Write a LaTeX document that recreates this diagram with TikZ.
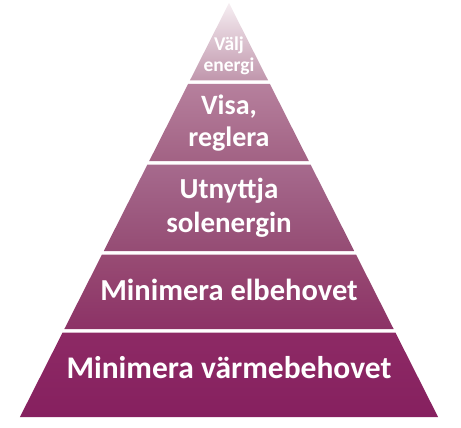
\documentclass[tikz,border=0pt]{standalone}
\usepackage{fontspec}
\setmainfont{Carlito}
\definecolor{layAtop}{RGB}{246,238,242}
\definecolor{layAbot}{RGB}{192,150,172}
\definecolor{layBtop}{RGB}{182,128,157}
\definecolor{layBbot}{RGB}{162,98,132}
\definecolor{layCtop}{RGB}{166,106,141}
\definecolor{layCbot}{RGB}{149,76,116}
\definecolor{layDtop}{RGB}{152,76,116}
\definecolor{layDbot}{RGB}{140,50,102}
\definecolor{layEtop}{RGB}{141,42,101}
\definecolor{layEbot}{RGB}{134,32,95}
\newcommand{\pyrlayer}[4]{%
  \shade[top color=#3, bottom color=#4]
    ({229-(#1-3)*0.505},#1) -- ({229+(#1-3)*0.505},#1) --
    ({229+(#2-3)*0.505},#2) -- ({229-(#2-3)*0.505},#2) -- cycle;}
\begin{document}
\begin{tikzpicture}[x=1pt, y=-1pt, every node/.style={align=center, text=white, font=\bfseries\fontsize{30.5}{34}\selectfont}]
\useasboundingbox (0,0) rectangle (461,428);
\pyrlayer{3}{80.5}{layAtop}{layAbot}
\pyrlayer{84}{161}{layBtop}{layBbot}
\pyrlayer{164.5}{251}{layCtop}{layCbot}
\pyrlayer{254.5}{329}{layDtop}{layDbot}
\pyrlayer{332.5}{417}{layEtop}{layEbot}
\node (valj) [font=\bfseries\fontsize{19.5}{21}\selectfont] at (229,56) {Välj\\energi};
\node (visa) [font=\bfseries\fontsize{28}{32}\selectfont] at (229,123) {Visa,\\reglera};
\node (utnyttja) [font=\bfseries\fontsize{29}{34}\selectfont] at (229,208) {Utnyttja\\solenergin};
\node (elbehov) at (229,290) {Minimera elbehovet};
\node (varme) [font=\bfseries\fontsize{31.5}{34}\selectfont] at (229,368) {Minimera värmebehovet};
\end{tikzpicture}
\end{document}
